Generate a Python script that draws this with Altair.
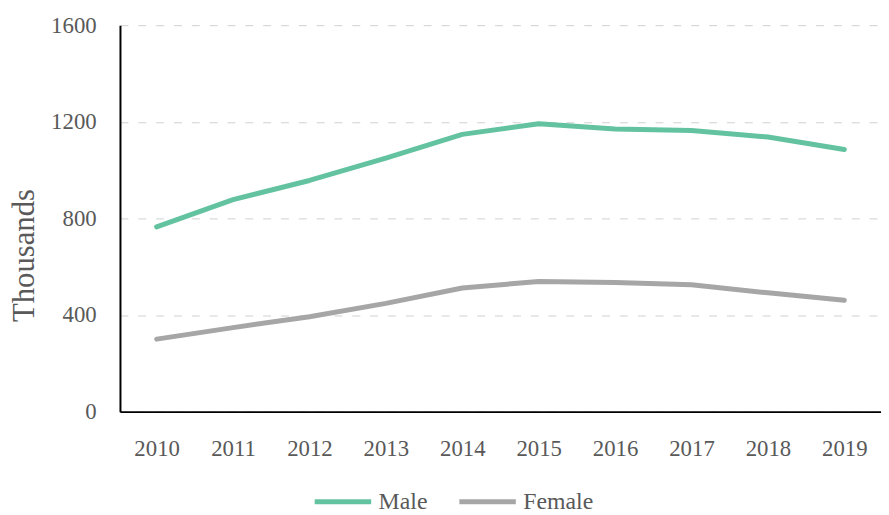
import altair as alt
import pandas as pd

years = ["2010", "2011", "2012", "2013", "2014", "2015", "2016", "2017", "2018", "2019"]
male = [765, 878, 957, 1050, 1148, 1192, 1170, 1164, 1137, 1085]
female = [300, 348, 393, 448, 512, 539, 535, 525, 492, 461]
series = ["Male", "Female"]
colors = ["#63C3A1", "#A6A6A6"]

rows = []
for i, y in enumerate(years):
    rows.append({"year": y, "series": "Male", "value": male[i]})
    rows.append({"year": y, "series": "Female", "value": female[i]})
df = pd.DataFrame(rows)

FONT = "Liberation Serif"
GRAY_TEXT = "#595959"

chart = alt.Chart(df).mark_line(strokeWidth=5, strokeCap="round", strokeJoin="round").encode(
    x=alt.X("year:O", sort=years, title=None,
            scale=alt.Scale(type="point", padding=0.48),
            axis=alt.Axis(labelAngle=0, ticks=False, grid=False, labelPadding=26,
                          domainColor="black", domainWidth=2,
                          labelFontSize=23, labelColor=GRAY_TEXT, labelFont=FONT)),
    y=alt.Y("value:Q", title="Thousands",
            scale=alt.Scale(domain=[0, 1600], nice=False),
            axis=alt.Axis(values=[0, 400, 800, 1200, 1600], format="d", ticks=False, labelPadding=24,
                          domainColor="black", domainWidth=2,
                          grid=True, gridColor="#D0D0D0", gridDash=[8, 10], gridWidth=1,
                          labelFontSize=23, labelColor=GRAY_TEXT, labelFont=FONT,
                          titleFont=FONT, titleFontSize=31, titleColor=GRAY_TEXT,
                          titleFontWeight="normal", titleX=-96, titleY=232,
                          titleBaseline="middle", titleAngle=270)),
    color=alt.Color("series:N", sort=series,
                    scale=alt.Scale(domain=series, range=colors),
                    legend=alt.Legend(title=None, orient="none", direction="horizontal",
                                      legendX=194, legendY=450,
                                      symbolType="stroke", symbolSize=3249, symbolStrokeWidth=5,
                                      labelFont=FONT, labelFontSize=24, labelColor=GRAY_TEXT,
                                      labelOffset=5, columnPadding=21)),
    detail="series:N",
).properties(
    width=768, height=390,
    autosize=alt.AutoSizeParams(type="none"),
    padding={"left": 113, "top": 15, "right": 0, "bottom": 104},
).configure_view(stroke=None)

chart.save("out.html", embed_options={"renderer": "svg", "actions": False})
